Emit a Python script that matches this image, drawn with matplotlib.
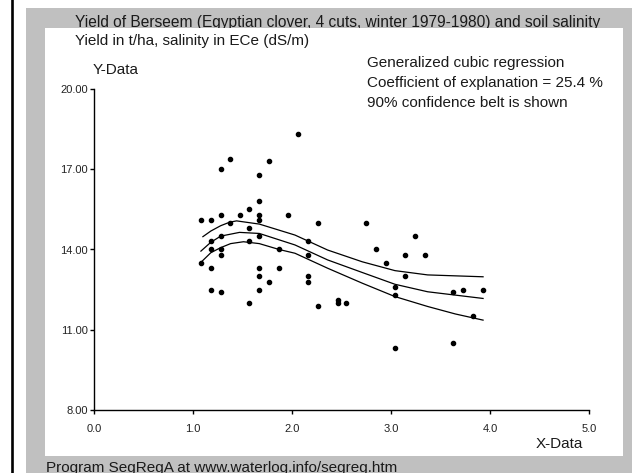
import matplotlib
matplotlib.use("Agg")
import matplotlib.pyplot as plt
from matplotlib.patches import Rectangle
from matplotlib.lines import Line2D

plt.rcParams["font.family"] = ["Liberation Sans", "DejaVu Sans"]

# Scatter data: soil salinity ECe (dS/m) vs Berseem yield (t/ha)
salinity = [2.06, 1.37, 1.77, 1.28, 1.67, 1.67, 1.57, 1.28, 1.47, 1.67, 1.96,
            1.08, 1.18, 1.37, 1.67, 1.57, 1.28, 1.67, 1.18, 1.57, 1.18, 1.28,
            1.87, 1.28, 1.08, 1.18, 1.67, 1.87, 1.67, 1.77, 1.18, 1.28, 1.67,
            1.57, 2.26, 2.75, 2.16, 3.24, 2.85, 3.14, 3.34, 2.16, 2.95, 2.16,
            2.16, 3.14, 3.04, 3.04, 3.63, 3.73, 3.93, 2.26, 2.46, 2.46, 2.55,
            3.83, 3.04, 3.63]
yield_tha = [18.3, 17.4, 17.3, 17.0, 16.8, 15.8, 15.5, 15.3, 15.3, 15.3, 15.3,
             15.1, 15.1, 15.0, 15.1, 14.8, 14.5, 14.5, 14.3, 14.3, 14.0, 14.0,
             14.0, 13.8, 13.5, 13.3, 13.3, 13.3, 13.0, 12.8, 12.5, 12.4, 12.5,
             12.0, 15.0, 15.0, 14.3, 14.5, 14.0, 13.8, 13.8, 13.8, 13.5, 13.0,
             12.8, 13.0, 12.6, 12.3, 12.4, 12.5, 12.5, 11.9, 12.1, 12.0, 12.0,
             11.5, 10.3, 10.5]

# Fitted cubic regression and 90% confidence belt
fit_x = [1.08, 1.18, 1.28, 1.47, 1.67, 2.03, 2.36, 2.71, 3.04, 3.37, 3.93]
fit_y = [13.94, 14.27, 14.50, 14.64, 14.60, 14.17, 13.61, 13.14, 12.70, 12.42, 12.17]
upper_x = [1.10, 1.18, 1.28, 1.37, 1.44, 1.67, 2.03, 2.36, 2.71, 3.04, 3.37, 3.93]
upper_y = [14.48, 14.69, 14.89, 15.02, 15.07, 14.95, 14.54, 13.98, 13.54, 13.21, 13.05, 12.98]
lower_x = [1.08, 1.18, 1.28, 1.38, 1.51, 1.67, 1.87, 2.03, 2.36, 2.71, 3.04, 3.37, 3.65, 3.93]
lower_y = [13.52, 13.88, 14.07, 14.22, 14.29, 14.22, 14.00, 13.86, 13.30, 12.74, 12.24, 11.87, 11.59, 11.36]

x_ticks = [0, 1, 2, 3, 4, 5]
x_labels = ["0.0", "1.0", "2.0", "3.0", "4.0", "5.0"]
y_ticks = [8, 11, 14, 17, 20]
y_labels = ["8.00", "11.00", "14.00", "17.00", "20.00"]

W, H = 644, 473


def fx(x):
    return x / W


def fy(y):
    return 1 - y / H


fig = plt.figure(figsize=(W / 100, H / 100), dpi=100)

# frame: black line on the left, grey border, white panel
fig.add_artist(Line2D([fx(12), fx(12)], [0, 1], color="black", lw=1.9, zorder=0.5))
fig.add_artist(Rectangle((fx(26), 0), fx(632) - fx(26), fy(8), facecolor="#c0c0c0",
                         edgecolor="none", zorder=0.6))
# title sits on the grey border, its descenders are hidden by the white panel
fig.text(fx(75), fy(27.5), "Yield of Berseem (Egyptian clover, 4 cuts, winter 1979-1980) and soil salinity",
         fontsize=11.2, color="#1a1a1a", va="baseline", zorder=0.8)
fig.add_artist(Rectangle((fx(45), fy(456)), fx(623) - fx(45), fy(28) - fy(456),
                         facecolor="white", edgecolor="none", zorder=1))
fig.text(fx(46), fy(461), "Program SegRegA at www.waterlog.info/segreg.htm",
         fontsize=11, color="#1a1a1a", va="top", zorder=1.5)

ax = fig.add_axes([fx(94), fy(410), fx(589) - fx(94), fy(89) - fy(410)])
ax.set_zorder(3)
ax.patch.set_visible(False)

ax.scatter(salinity, yield_tha, s=9, color="black", zorder=3)
ax.plot(fit_x, fit_y, color="black", lw=0.9)
ax.plot(upper_x, upper_y, color="black", lw=0.9)
ax.plot(lower_x, lower_y, color="black", lw=0.9)

ax.set_xlim(0, 5)
ax.set_ylim(8, 20)
ax.set_xticks(x_ticks)
ax.set_xticklabels(x_labels)
ax.set_yticks(y_ticks)
ax.set_yticklabels(y_labels)
for s in ["top", "right"]:
    ax.spines[s].set_visible(False)
for s in ["left", "bottom"]:
    ax.spines[s].set_linewidth(1.0)
ax.tick_params(axis="x", length=3, width=1, pad=7, labelsize=8, labelcolor="#222222")
ax.tick_params(axis="y", length=3, width=1, pad=1.5, labelsize=8, labelcolor="#222222")

fig.text(fx(75), fy(41), "Yield in t/ha, salinity in ECe (dS/m)", fontsize=11,
         color="#1a1a1a", va="center", zorder=4)
fig.text(fx(93), fy(70), "Y-Data", fontsize=11, color="#1a1a1a", va="center", zorder=4)
fig.text(fx(367), fy(63), "Generalized cubic regression", fontsize=11,
         color="#1a1a1a", va="center", zorder=4)
fig.text(fx(367), fy(83), "Coefficient of explanation = 25.4 %", fontsize=11,
         color="#1a1a1a", va="center", zorder=4)
fig.text(fx(367), fy(103), "90% confidence belt is shown", fontsize=11,
         color="#1a1a1a", va="center", zorder=4)
fig.text(fx(583), fy(444), "X-Data", fontsize=11, color="#1a1a1a", ha="right",
         va="center", zorder=4)

fig.savefig("out.png", dpi=100)
